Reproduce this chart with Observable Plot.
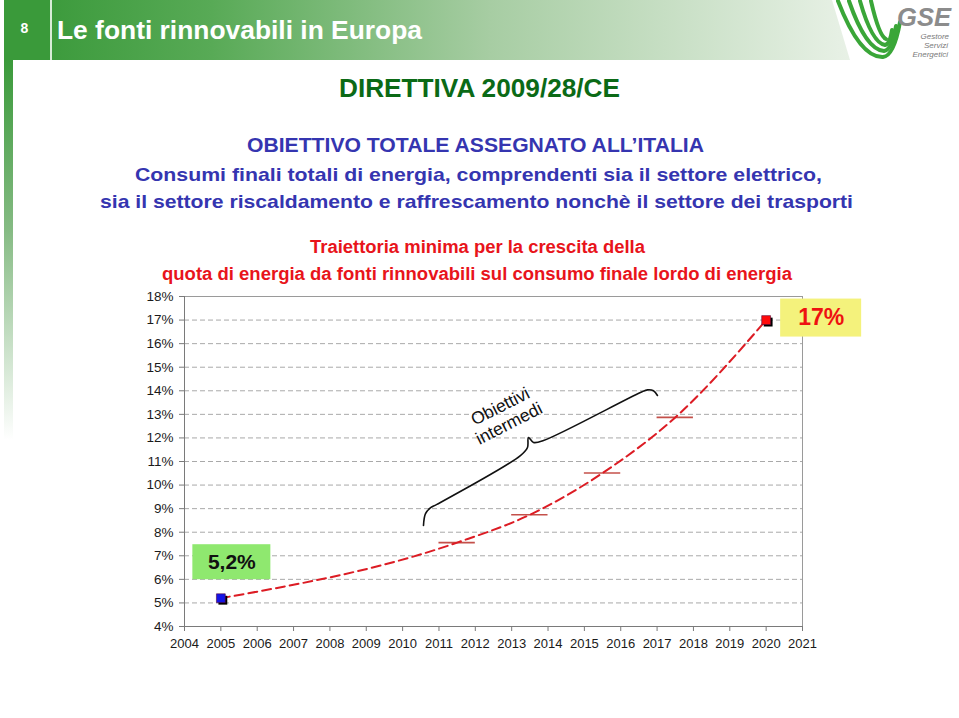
<!DOCTYPE html>
<html><head><meta charset="utf-8">
<script src="https://cdn.jsdelivr.net/npm/d3@7"></script>
<script src="https://cdn.jsdelivr.net/npm/@observablehq/plot@0.6"></script>
<style>
body{margin:0;background:#fff;}
#page{position:relative;width:959px;height:718px;overflow:hidden;font-family:"Liberation Sans",Arial,Helvetica,sans-serif;}
#deco{position:absolute;left:0;top:0;}
#chart{position:absolute;left:0;top:280px;}
</style></head><body>
<div id="page">
<svg id="deco" width="959" height="718" font-family="Liberation Sans, Arial, Helvetica, sans-serif">
  <defs>
    <linearGradient id="hg" x1="0" x2="1" y1="0" y2="0">
      <stop offset="0" stop-color="#3d9b3d"/>
      <stop offset="0.2" stop-color="#58aa56"/>
      <stop offset="0.55" stop-color="#a7cda3"/>
      <stop offset="1" stop-color="#e8f1e6"/>
    </linearGradient>
    <linearGradient id="vg" x1="0" x2="0" y1="0" y2="1">
      <stop offset="0" stop-color="#3a9a3a"/>
      <stop offset="0.45" stop-color="#86bb84"/>
      <stop offset="1" stop-color="#ffffff"/>
    </linearGradient>
  </defs>
  <rect x="4" y="0" width="47" height="60" fill="#3a9a3a"/>
  <polygon points="52,0 832,0 850,60 52,60" fill="url(#hg)"/>
  <rect x="50" y="0" width="2" height="60" fill="#d8ecd8"/>
  <rect x="4" y="60" width="9" height="380" fill="url(#vg)"/>
  <text x="24.5" y="33" fill="#fff" font-weight="bold" font-size="14" text-anchor="middle">8</text>
  <text x="57" y="39" fill="#fff" font-weight="bold" font-size="25" textLength="365" lengthAdjust="spacingAndGlyphs">Le fonti rinnovabili in Europa</text>
  <g fill="none" stroke="#3aa638" stroke-width="4" stroke-linecap="round">
    <path d="M838,1 Q860,58 883,57 Q894,56 900,22"/>
    <path d="M849,1 Q866,50 884,51 Q892,50 896,26"/>
    <path d="M860,1 Q872,43 885,45 Q890,44 892,30"/>
    <path d="M871,1 Q879,36 886,39"/>
  </g>
  <text x="951" y="26" fill="#8c8c8c" font-weight="bold" font-style="italic" font-size="26" text-anchor="end" textLength="54" lengthAdjust="spacingAndGlyphs">GSE</text>
  <g fill="#7a7a7a" font-style="italic" font-size="8" text-anchor="end">
    <text x="949" y="39">Gestore</text>
    <text x="948" y="48">Servizi</text>
    <text x="948" y="57">Energetici</text>
  </g>
  <text x="479.5" y="97" fill="#0b6a16" font-weight="bold" font-size="26" text-anchor="middle" textLength="281" lengthAdjust="spacingAndGlyphs">DIRETTIVA 2009/28/CE</text>
  <g fill="#3535b0" font-weight="bold" font-size="20" text-anchor="middle">
    <text x="475.5" y="152" textLength="457" lengthAdjust="spacingAndGlyphs">OBIETTIVO TOTALE ASSEGNATO ALL’ITALIA</text>
    <text x="478.5" y="181" font-size="19" textLength="687" lengthAdjust="spacingAndGlyphs">Consumi finali totali di energia, comprendenti sia il settore elettrico,</text>
    <text x="476.5" y="208" font-size="19" textLength="753" lengthAdjust="spacingAndGlyphs">sia il settore riscaldamento e raffrescamento nonchè il settore dei trasporti</text>
  </g>
  <g fill="#e8141b" font-weight="bold" font-size="18" text-anchor="middle">
    <text x="477.5" y="253" textLength="335" lengthAdjust="spacingAndGlyphs">Traiettoria minima per la crescita della</text>
    <text x="477" y="280" textLength="630" lengthAdjust="spacingAndGlyphs">quota di energia da fonti rinnovabili sul consumo finale lordo di energia</text>
  </g>
</svg>
<div id="chart"></div>
</div>
<script>
// ---- data ----
const yearTicks = [2004,2005,2006,2007,2008,2009,2010,2011,2012,2013,2014,2015,2016,2017,2018,2019,2020,2021];
const pctTicks = [4,5,6,7,8,9,10,11,12,13,14,15,16,17,18];
const gridPct = [5,6,7,8,9,10,11,12,13,14,15,16,17];

// trajectory (minimum path) through the intermediate targets
const trajYear = [2005, 2011.5, 2013.5, 2015.5, 2017.5, 2020];
const trajPct  = [5.2, 7.56, 8.74, 10.51, 12.87, 17];

// intermediate targets (two-year averages)
const targetStart = [2011, 2013, 2015, 2017];
const targetEnd   = [2012, 2014, 2016, 2018];
const targetPct   = [7.56, 8.74, 10.51, 12.87];

// start and end points
const pointYear  = [2005, 2020];
const pointPct   = [5.2, 17];
const pointFill  = ["#1414e6", "#ff0a0a"];
const pointLabel = ["5,2%", "17%"];

// brace annotation "Obiettivi intermedi"
const braceYear = [2010.574, 2010.63, 2010.78, 2010.93, 2013.24, 2013.435, 2013.46, 2013.60, 2013.875, 2016.543, 2016.74, 2016.90, 2017.01];
const bracePct  = [8.285, 8.79, 9.05, 9.17, 11.25, 11.594, 12.02, 11.81, 11.89, 13.927, 14.04, 14.0, 13.80];
const braceTextYear = 2012.80;
const braceTextPct = 12.99;
const braceText = "Obiettivi\nintermedi";

// ---- tables for Plot ----
const traj = trajYear.map((y, i) => ({year: y, v: trajPct[i]}));
const targets = targetStart.map((s, i) => ({start: s, end: targetEnd[i], v: targetPct[i]}));
const points = pointYear.map((y, i) => ({year: y, v: pointPct[i], fill: pointFill[i], label: pointLabel[i]}));
const brace = braceYear.map((y, i) => ({year: y, v: bracePct[i]}));

function labelBox(data, {dx, dy, w, h, fill}) {
  return Plot.dot(data, {x: "year", y: "v", r: 1, render(index, scales, values) {
    const g = d3.create("svg:g");
    for (const i of index) {
      g.append("rect")
        .attr("x", values.x[i] + dx - w / 2)
        .attr("y", values.y[i] + dy - h / 2)
        .attr("width", w).attr("height", h)
        .attr("fill", fill);
    }
    return g.node();
  }});
}

const font = "Liberation Sans, Arial, Helvetica, sans-serif";
const chart = Plot.plot({
  width: 959,
  height: 380,
  marginLeft: 184,
  marginRight: 157,
  marginTop: 16,
  marginBottom: 34,
  x: {type: "linear", domain: [2004, 2021]},
  y: {type: "linear", domain: [4, 18]},
  style: {fontFamily: font, fontSize: "13px", color: "#1a1a1a", background: "transparent", overflow: "visible"},
  marks: [
    Plot.ruleY(gridPct, {stroke: "#a9a9a9", strokeDasharray: "5,3", strokeWidth: 1}),
    Plot.frame({stroke: "#9a9a9a"}),
    Plot.ruleX([2004], {stroke: "#7a7a7a"}),
    Plot.ruleY([4], {stroke: "#7a7a7a"}),
    Plot.axisY(pctTicks, {tickSize: 5, tickPadding: 6, tickFormat: d => d + "%", label: null, stroke: "#7a7a7a", fontSize: 13.5}),
    Plot.axisX(yearTicks, {tickSize: 5, tickPadding: 7, tickFormat: d => String(d), label: null, stroke: "#7a7a7a", fontSize: 13}),
    Plot.line(brace, {x: "year", y: "v", curve: "catmull-rom", stroke: "#111", strokeWidth: 1.6}),
    Plot.text([{year: braceTextYear, v: braceTextPct, t: braceText}], {x: "year", y: "v", text: "t", rotate: -27, fontSize: 17.5, lineHeight: 1.1, fill: "#111"}),
    Plot.ruleY(targets, {x1: "start", x2: "end", y: "v", stroke: "#c4504a", strokeWidth: 1.6}),
    Plot.line(traj, {x: "year", y: "v", curve: "monotone-x", stroke: "#dc1c24", strokeWidth: 2, strokeDasharray: "9,5"}),
    Plot.dot(points, {x: "year", y: "v", symbol: "square", r: 5, fill: "#000", dx: 2, dy: 2}),
    Plot.dot(points, {x: "year", y: "v", symbol: "square", r: 5, fill: "fill", stroke: "#5a0a3a", strokeWidth: 0.6}),
    labelBox([points[0]], {dx: 11, dy: -36, w: 78, h: 35, fill: "#8fe86f"}),
    labelBox([points[1]], {dx: 55, dy: -2, w: 81, h: 38, fill: "#f4f27c"}),
    Plot.text([points[0]], {x: "year", y: "v", text: "label", dx: 11, dy: -36, fontSize: 21, fontWeight: "bold", fill: "#111"}),
    Plot.text([points[1]], {x: "year", y: "v", text: "label", dx: 55, dy: -2, fontSize: 23, fontWeight: "bold", fill: "#ee1111"})
  ]
});
document.getElementById("chart").appendChild(chart);
</script>
</body></html>
